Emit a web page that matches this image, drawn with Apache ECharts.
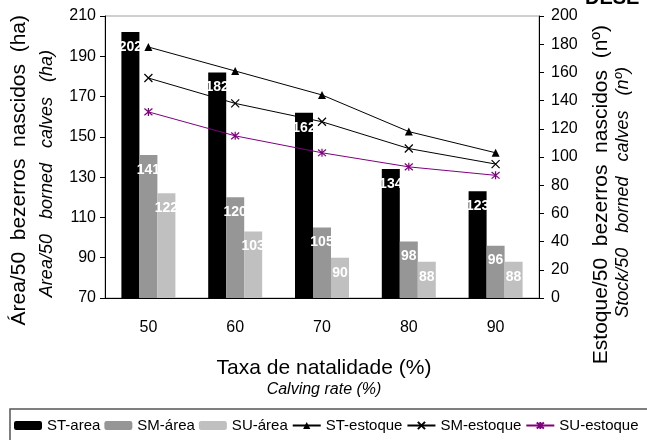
<!DOCTYPE html>
<html>
<head>
<meta charset="utf-8">
<script src="https://cdn.jsdelivr.net/npm/echarts@6/dist/echarts.min.js"></script>
<style>
html,body{margin:0;padding:0;background:#fff;}
#main{width:647px;height:440px;}
</style>
</head>
<body>
<div id="main"></div>
<script>
const categories = ['50', '60', '70', '80', '90'];
const stArea = [202, 182, 162, 134, 123];
const smArea = [141, 120, 105, 98, 96];
const suArea = [122, 103, 90, 88, 88];
const stStock = [178, 161, 144, 118, 103];
const smStock = [156, 138, 125, 106, 95];
const suStock = [132, 115, 103, 93, 87];
const seriesNames = ['ST-area', 'SM-área', 'SU-área', 'ST-estoque', 'SM-estoque', 'SU-estoque'];
const leftAxis = { min: 70, max: 210, interval: 20 };
const rightAxis = { min: 0, max: 200, interval: 20 };

const FONT = "'Liberation Sans', Arial, sans-serif";
const chart = echarts.init(document.getElementById('main'), null, { renderer: 'canvas' });

const barLabel = {
  show: true, position: 'insideTop', distance: 8, color: '#fff',
  fontWeight: 'bold', fontSize: 14, fontFamily: FONT
};
function barSeries(name, data, color) {
  return {
    name: name, type: 'bar', data: data, barWidth: 18, barGap: '0%',
    itemStyle: { color: color }, label: barLabel, yAxisIndex: 0
  };
}
function lineSeries(name, data, color, symbol, size, filled) {
  return {
    name: name, type: 'line', data: data, yAxisIndex: 1,
    symbol: symbol, symbolSize: size,
    lineStyle: { color: color, width: 1 },
    itemStyle: filled ? { color: color } : { color: 'rgba(0,0,0,0)', borderColor: color, borderWidth: 1.2 },
    z: 5
  };
}
const xSym = 'path://M0,0L10,10M10,0L0,10';
const astSym = 'path://M0,0L10,10M10,0L0,10M5,-1L5,11';

function vText(text, x, yTop, font, italic) {
  return {
    type: 'text', x: x, y: yTop, rotation: Math.PI / 2,
    style: {
      text: text, fill: '#000',
      font: (italic ? 'italic ' : '') + font + 'px ' + FONT,
      textAlign: 'right', textVerticalAlign: 'middle',
      align: 'right', verticalAlign: 'middle'
    }
  };
}
function hText(text, x, y, font, italic) {
  return {
    type: 'text', x: x, y: y,
    style: {
      text: text, fill: '#000',
      font: (italic ? 'italic ' : '') + font + 'px ' + FONT,
      textAlign: 'center', textVerticalAlign: 'middle',
      align: 'center', verticalAlign: 'middle'
    }
  };
}

chart.setOption({
  animation: false,
  backgroundColor: '#fff',
  textStyle: { fontFamily: FONT },
  grid: { left: 105, right: 108, top: 16, bottom: 142, show: true, borderColor: '#a0a0a0', borderWidth: 1 },
  legend: {
    data: seriesNames, left: 14, top: 418, width: 640, padding: 0,
    itemWidth: 28, itemHeight: 9, itemGap: 4,
    textStyle: { fontSize: 15, color: '#000', fontFamily: FONT }
  },
  xAxis: {
    type: 'category', data: categories,
    axisLine: { lineStyle: { color: '#000', width: 1 } },
    axisTick: { length: 5, lineStyle: { color: '#000' } },
    axisLabel: { color: '#000', fontSize: 16, margin: 22, fontFamily: FONT }
  },
  yAxis: [{
    type: 'value', min: leftAxis.min, max: leftAxis.max, interval: leftAxis.interval,
    axisLine: { show: true, lineStyle: { color: '#000' } },
    axisTick: { show: true, length: 5, lineStyle: { color: '#000' } },
    splitLine: { show: false },
    axisLabel: { color: '#000', fontSize: 16, margin: 9, fontFamily: FONT }
  }, {
    type: 'value', min: rightAxis.min, max: rightAxis.max, interval: rightAxis.interval,
    position: 'right',
    axisLine: { show: true, lineStyle: { color: '#000' } },
    axisTick: { show: true, length: 5, lineStyle: { color: '#000' } },
    splitLine: { show: false },
    axisLabel: { color: '#000', fontSize: 16, margin: 12, fontFamily: FONT }
  }],
  series: [
    barSeries(seriesNames[0], stArea, '#000000'),
    barSeries(seriesNames[1], smArea, '#969696'),
    barSeries(seriesNames[2], suArea, '#c0c0c0'),
    lineSeries(seriesNames[3], stStock, '#000000', 'triangle', 8, true),
    lineSeries(seriesNames[4], smStock, '#000000', xSym, 8, false),
    lineSeries(seriesNames[5], suStock, '#800080', astSym, 8, false)
  ],
  graphic: [
    { type: 'rect', shape: { x: 10, y: 409, width: 660, height: 40 },
      style: { fill: 'none', stroke: '#555', lineWidth: 1.5 } },
    vText('Área/50  bezerros  nascidos  (ha)', 19, 15, 21, false),
    vText('Area/50   borned   calves   (ha)', 47, 50, 18, true),
    vText('Estoque/50  bezerros  nascidos  (nº)', 601, 25, 21, false),
    vText('Stock/50   borned   calves   (nº)', 623, 67, 18, true),
    hText('Taxa de natalidade (%)', 324, 368, 21, false),
    hText('Calving rate (%)', 324, 390, 16, true),
    { type: 'text', x: 585, y: 8,
      style: { text: 'DESE', fill: '#000', font: 'bold 20px ' + FONT,
        textAlign: 'left', textVerticalAlign: 'bottom', align: 'left', verticalAlign: 'bottom' } }
  ]
});
</script>
</body>
</html>
